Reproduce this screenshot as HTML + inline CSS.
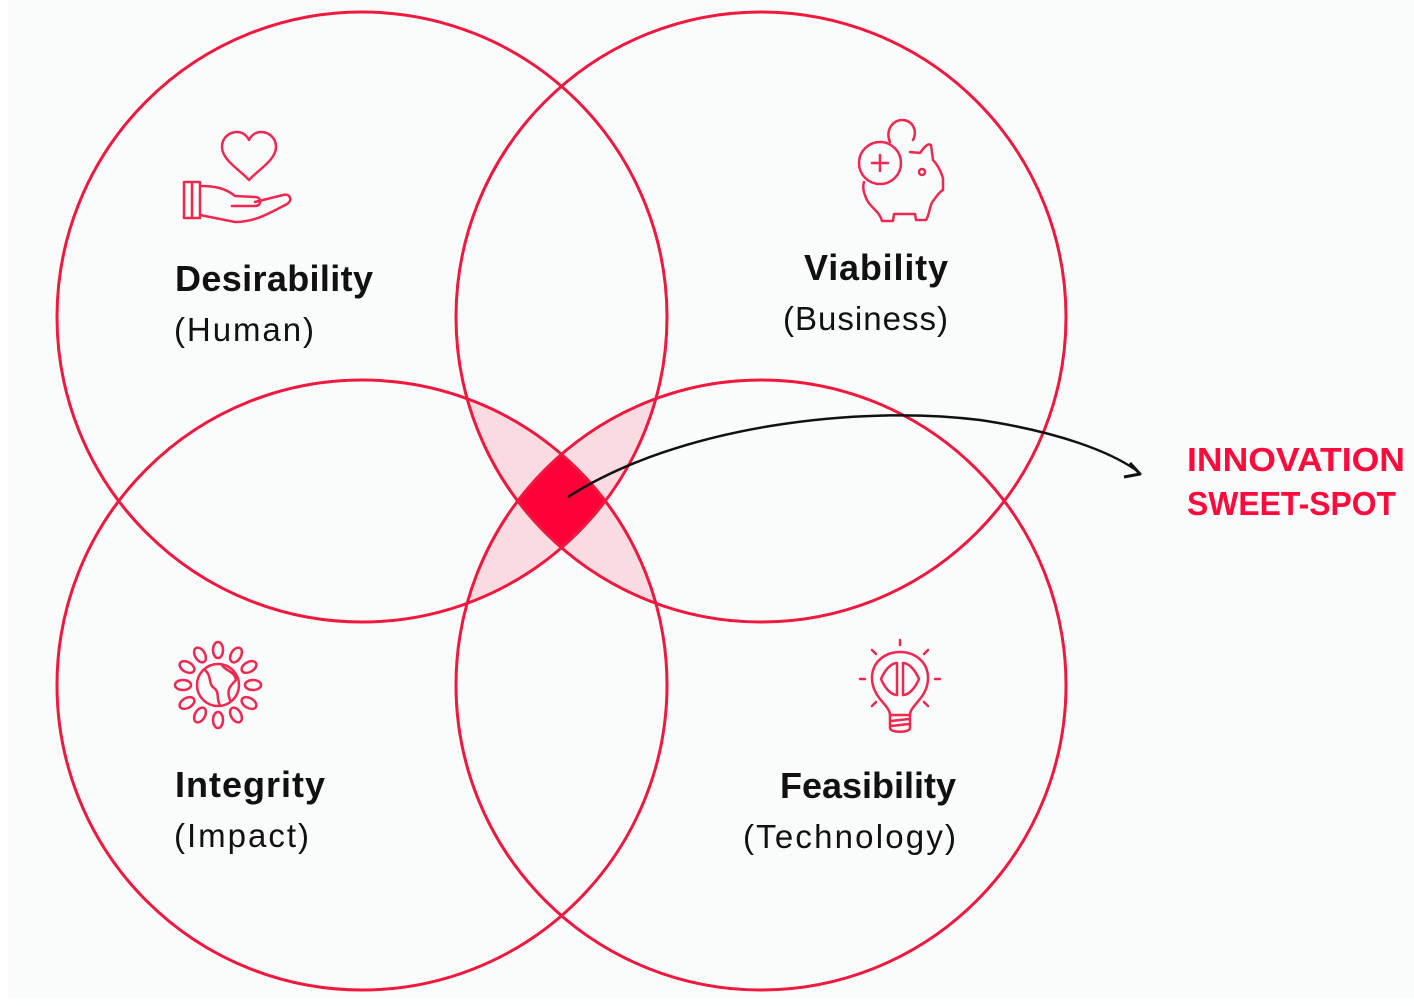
<!DOCTYPE html>
<html><head><meta charset="utf-8"><style>
html,body{margin:0;padding:0;background:#fff;}
svg{display:block;}
text{font-family:"Liberation Sans",sans-serif;}
</style></head><body>
<svg width="1414" height="1006" viewBox="0 0 1414 1006" xmlns="http://www.w3.org/2000/svg">
<defs>
<clipPath id="cA"><circle cx="362" cy="317" r="305"/></clipPath>
<clipPath id="cB"><circle cx="761" cy="317" r="305"/></clipPath>
<clipPath id="cC"><circle cx="362" cy="685" r="305"/></clipPath>
<clipPath id="cD"><circle cx="761" cy="685" r="305"/></clipPath>
</defs>
<rect x="8" y="0" width="1406" height="998" fill="#fafcfc"/>
<g fill="#fbdbe2">
<g clip-path="url(#cA)"><g clip-path="url(#cB)"><circle cx="362" cy="685" r="305"/></g></g>
<g clip-path="url(#cA)"><g clip-path="url(#cB)"><circle cx="761" cy="685" r="305"/></g></g>
<g clip-path="url(#cA)"><g clip-path="url(#cC)"><circle cx="761" cy="685" r="305"/></g></g>
<g clip-path="url(#cB)"><g clip-path="url(#cC)"><circle cx="761" cy="685" r="305"/></g></g>
</g>
<g clip-path="url(#cA)"><g clip-path="url(#cB)"><g clip-path="url(#cC)"><circle cx="761" cy="685" r="305" fill="#ff0038"/></g></g></g>
<g fill="none" stroke="#f0183f" stroke-width="3">
<circle cx="362" cy="317" r="305"/>
<circle cx="761" cy="317" r="305"/>
<circle cx="362" cy="685" r="305"/>
<circle cx="761" cy="685" r="305"/>
</g>
<path d="M568,497 C680,425 860,405 980,420 C1060,432 1110,452 1136,470" fill="none" stroke="#111" stroke-width="2.5"/>
<path d="M1130,463 L1140,474 L1124,477" fill="none" stroke="#111" stroke-width="3" stroke-linejoin="round"/>
<text x="1187" y="471" font-size="33" font-weight="bold" fill="#ff0a3c" textLength="218" lengthAdjust="spacingAndGlyphs">INNOVATION</text>
<text x="1187" y="515" font-size="33" font-weight="bold" fill="#ff0a3c" textLength="209" lengthAdjust="spacingAndGlyphs">SWEET-SPOT</text>
<g fill="#111">
<text x="175" y="291" font-size="36" font-weight="bold" textLength="198">Desirability</text>
<text x="174" y="341" font-size="33" textLength="140">(Human)</text>
<text x="948" y="280" font-size="36" font-weight="bold" text-anchor="end" textLength="144">Viability</text>
<text x="948" y="330" font-size="33" text-anchor="end" textLength="165">(Business)</text>
<text x="175" y="797" font-size="36" font-weight="bold" textLength="150">Integrity</text>
<text x="174" y="847" font-size="33" textLength="135">(Impact)</text>
<text x="956" y="798" font-size="36" font-weight="bold" text-anchor="end" textLength="176">Feasibility</text>
<text x="956" y="848" font-size="33" text-anchor="end" textLength="213">(Technology)</text>
</g>
<g fill="none" stroke="#f0284f" stroke-width="2.5" stroke-linecap="round" stroke-linejoin="round">
<path d="M249,180 C240,170 222,160 222,147 C222,137 230,132 237,132 C243,132 247,136 249,140 C251,136 255,132 261,132 C268,132 276,137 276,147 C276,160 258,170 249,180 Z"/>
<path d="M184,182 L200,182 L200,218 L184,218 Z M192,182 L192,218"/>
<path d="M200,186 C215,186 225,188 235,196 L255,197 C262,197 262,206 255,206 L232,206"/>
<path d="M255,202 L283,195 C290,193 293,200 287,204 C270,213 255,222 235,222 L200,215"/>
<circle cx="880" cy="163" r="21"/>
<path d="M872,163 L888,163 M880,155 L880,171"/>
<path d="M890,142 C885,130 893,120 902,120 C912,120 918,130 913,140"/>
<path d="M910,152 L920,153 C925,146 928,143 931,145 L933,160 C938,165 941,172 943,178 L943,190 C939,192 937,196 933,201 C929,206 930,214 926,220 L916,220 L915,214 L894,214 L893,221 L882,221 C880,212 871,208 867,200 C864,194 862,188 864,182"/>
<circle cx="922" cy="172" r="3"/>
<circle cx="218" cy="685" r="21"/>
<path d="M205,670 C212,676 208,684 214,688 C220,692 216,700 220,705 M222,665 C226,672 234,670 236,680 C230,686 226,690 230,700"/>
<g>
<ellipse cx="218" cy="650" rx="5" ry="8"/>
<ellipse cx="218" cy="720" rx="5" ry="8"/>
<ellipse cx="183" cy="685" rx="8" ry="5"/>
<ellipse cx="253" cy="685" rx="8" ry="5"/>
<ellipse cx="200" cy="655" rx="5" ry="8" transform="rotate(-30 200 655)"/>
<ellipse cx="236" cy="655" rx="5" ry="8" transform="rotate(30 236 655)"/>
<ellipse cx="200" cy="715" rx="5" ry="8" transform="rotate(30 200 715)"/>
<ellipse cx="236" cy="715" rx="5" ry="8" transform="rotate(-30 236 715)"/>
<ellipse cx="187" cy="667" rx="8" ry="5" transform="rotate(30 187 667)"/>
<ellipse cx="249" cy="667" rx="8" ry="5" transform="rotate(-30 249 667)"/>
<ellipse cx="187" cy="703" rx="8" ry="5" transform="rotate(-30 187 703)"/>
<ellipse cx="249" cy="703" rx="8" ry="5" transform="rotate(30 249 703)"/>
</g>
<path d="M890,715 C890,705 872,698 872,678 C872,662 885,652 900,652 C915,652 928,662 928,678 C928,698 910,705 910,715 Z"/>
<path d="M890,715 L890,728 C890,733 910,733 910,728 L910,715 M891,721 L909,719 M891,726 L909,724"/>
<path d="M897,663 C890,663 884,672 881,679 C884,686 890,695 897,695 Z M903,663 C910,663 916,672 919,679 C916,686 910,695 903,695 Z"/>
<path d="M900,640 L900,645 M872,650 L876,654 M928,650 L924,654 M860,679 L865,679 M935,679 L940,679 M872,706 L876,702 M928,706 L924,702"/>
</g>
</svg>
</body></html>
